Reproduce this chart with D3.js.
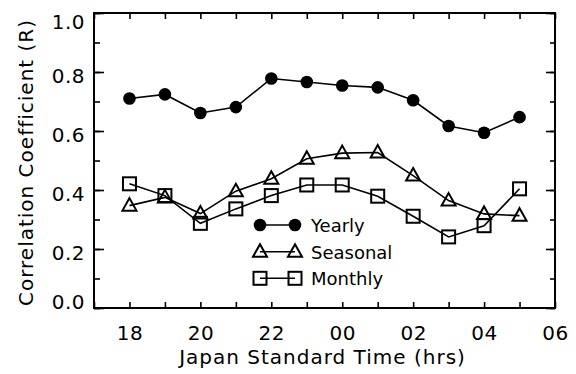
<!DOCTYPE html>
<html>
<head>
<meta charset="utf-8">
<script src="https://cdn.jsdelivr.net/npm/d3@7"></script>
<style>
  html, body { margin: 0; padding: 0; background: #fff; }
  svg { display: block; }
  text { font-family: "DejaVu Sans", sans-serif; fill: #000; }
</style>
</head>
<body>
<svg id="chart" width="576" height="374"></svg>
<script>
// Hour of day (Japan Standard Time); values past 23 wrap into the next morning
const hours = [18, 19, 20, 21, 22, 23, 24, 25, 26, 27, 28, 29];
const yearly   = [0.710, 0.724, 0.661, 0.681, 0.778, 0.766, 0.754, 0.748, 0.704, 0.617, 0.594, 0.647];
const seasonal = [0.347, 0.375, 0.320, 0.396, 0.438, 0.506, 0.525, 0.527, 0.449, 0.364, 0.319, 0.313];
const monthly  = [0.421, 0.381, 0.287, 0.336, 0.381, 0.417, 0.417, 0.379, 0.311, 0.241, 0.279, 0.404];
const seriesNames = ["Yearly", "Seasonal", "Monthly"];
const xTickHours = [18, 20, 22, 24, 26, 28, 30];
const yTickValues = [0.0, 0.2, 0.4, 0.6, 0.8, 1.0];

const svg = d3.select("#chart");
const plotLeft = 94, plotRight = 555, plotTop = 13, plotBottom = 308;

const x = d3.scaleLinear().domain([17, 30]).range([plotLeft, plotRight]);
const y = d3.scaleLinear().domain([0, 1]).range([plotBottom, plotTop]);

const hourLabel = h => String(h % 24).padStart(2, "0");
const allHours = d3.range(17, 31);
const tenths = d3.range(0, 11).map(i => i / 10);

// Frame
svg.append("rect")
  .attr("x", plotLeft).attr("y", plotTop)
  .attr("width", plotRight - plotLeft).attr("height", plotBottom - plotTop)
  .attr("fill", "none").attr("stroke", "#000").attr("stroke-width", 2);

function styleAxis(g) {
  g.select(".domain").remove();
  g.selectAll(".tick line").attr("stroke", "#000").attr("stroke-width", 1.6);
}

// Bottom axis: ticks every hour pointing inward, labels on even hours
const xb = svg.append("g").attr("transform", `translate(0,${plotBottom})`)
  .call(d3.axisBottom(x).tickValues(allHours).tickSize(-6).tickFormat(""));
styleAxis(xb);
svg.append("g").attr("transform", `translate(0,${plotBottom})`)
  .call(d3.axisBottom(x).tickValues(xTickHours).tickSize(0).tickPadding(32).tickFormat(hourLabel))
  .call(g => g.select(".domain").remove())
  .selectAll("text")
  .attr("dy", 0)
  .style("font-size", "20px").style("letter-spacing", "0.5px");

// Top axis
const xt = svg.append("g").attr("transform", `translate(0,${plotTop})`)
  .call(d3.axisTop(x).tickValues(allHours).tickSize(-6).tickFormat(""));
styleAxis(xt);

// Left axis: long ticks at labelled values, short ticks at tenths
const yl = svg.append("g").attr("transform", `translate(${plotLeft},0)`)
  .call(d3.axisLeft(y).tickValues(tenths).tickSize(-6).tickFormat(""));
styleAxis(yl);
const ylMajor = svg.append("g").attr("transform", `translate(${plotLeft},0)`)
  .call(d3.axisLeft(y).tickValues(yTickValues).tickSize(-10).tickPadding(9).tickFormat(d3.format(".1f")));
styleAxis(ylMajor);
ylMajor.selectAll("text")
  .style("font-size", "20px").style("letter-spacing", "0.5px")
  .attr("dy", null)
  .attr("y", d => d === 0 ? 0 : (d === 1 ? 15 : 10));

// Right axis
const yr = svg.append("g").attr("transform", `translate(${plotRight},0)`)
  .call(d3.axisRight(y).tickValues(tenths).tickSize(-5).tickFormat(""));
styleAxis(yr);
const yrMajor = svg.append("g").attr("transform", `translate(${plotRight},0)`)
  .call(d3.axisRight(y).tickValues(yTickValues).tickSize(-9).tickFormat(""));
styleAxis(yrMajor);

// Axis titles
svg.append("text")
  .attr("x", (plotLeft + plotRight) / 2 - 2).attr("y", 364)
  .attr("text-anchor", "middle")
  .style("font-size", "20px").style("letter-spacing", "1px")
  .text("Japan Standard Time (hrs)");
svg.append("text")
  .attr("transform", `translate(33,${(plotTop + plotBottom) / 2 + 2}) rotate(-90)`)
  .attr("text-anchor", "middle")
  .style("font-size", "20px").style("letter-spacing", "1px")
  .text("Correlation Coefficient (R)");

// Marker painters
const markers = {
  Yearly: (g) => g.append("circle").attr("r", 6.3).attr("fill", "#000"),
  Seasonal: (g) => g.append("path").attr("d", "M0,-7.5L7,5L-7,5Z")
      .attr("fill", "none").attr("stroke", "#000").attr("stroke-width", 2),
  Monthly: (g) => g.append("rect").attr("x", -6.5).attr("y", -6.5).attr("width", 13).attr("height", 13)
      .attr("fill", "none").attr("stroke", "#000").attr("stroke-width", 2)
};

const line = d3.line().x(d => x(d[0])).y(d => y(d[1]));
const seriesValues = { Yearly: yearly, Seasonal: seasonal, Monthly: monthly };

seriesNames.forEach(name => {
  const pts = hours.map((h, i) => [h, seriesValues[name][i]]);
  svg.append("path").datum(pts)
    .attr("d", line)
    .attr("fill", "none").attr("stroke", "#000").attr("stroke-width", 1.6);
  const g = svg.append("g");
  pts.forEach(p => {
    const m = g.append("g").attr("transform", `translate(${x(p[0])},${y(p[1])})`);
    markers[name](m);
  });
});

// Legend
const legendX0 = 260, legendX1 = 295, legendTextX = 311;
const legendRows = [225, 251.7, 278.3];
seriesNames.forEach((name, i) => {
  const ly = legendRows[i];
  svg.append("line")
    .attr("x1", legendX0).attr("x2", legendX1).attr("y1", ly).attr("y2", ly)
    .attr("stroke", "#000").attr("stroke-width", 1.6);
  [legendX0, legendX1].forEach(lx => {
    const m = svg.append("g").attr("transform", `translate(${lx},${ly})`);
    markers[name](m);
  });
  svg.append("text")
    .attr("x", legendTextX).attr("y", ly + 7)
    .style("font-size", "18px")
    .text(name);
});
</script>
</body>
</html>
